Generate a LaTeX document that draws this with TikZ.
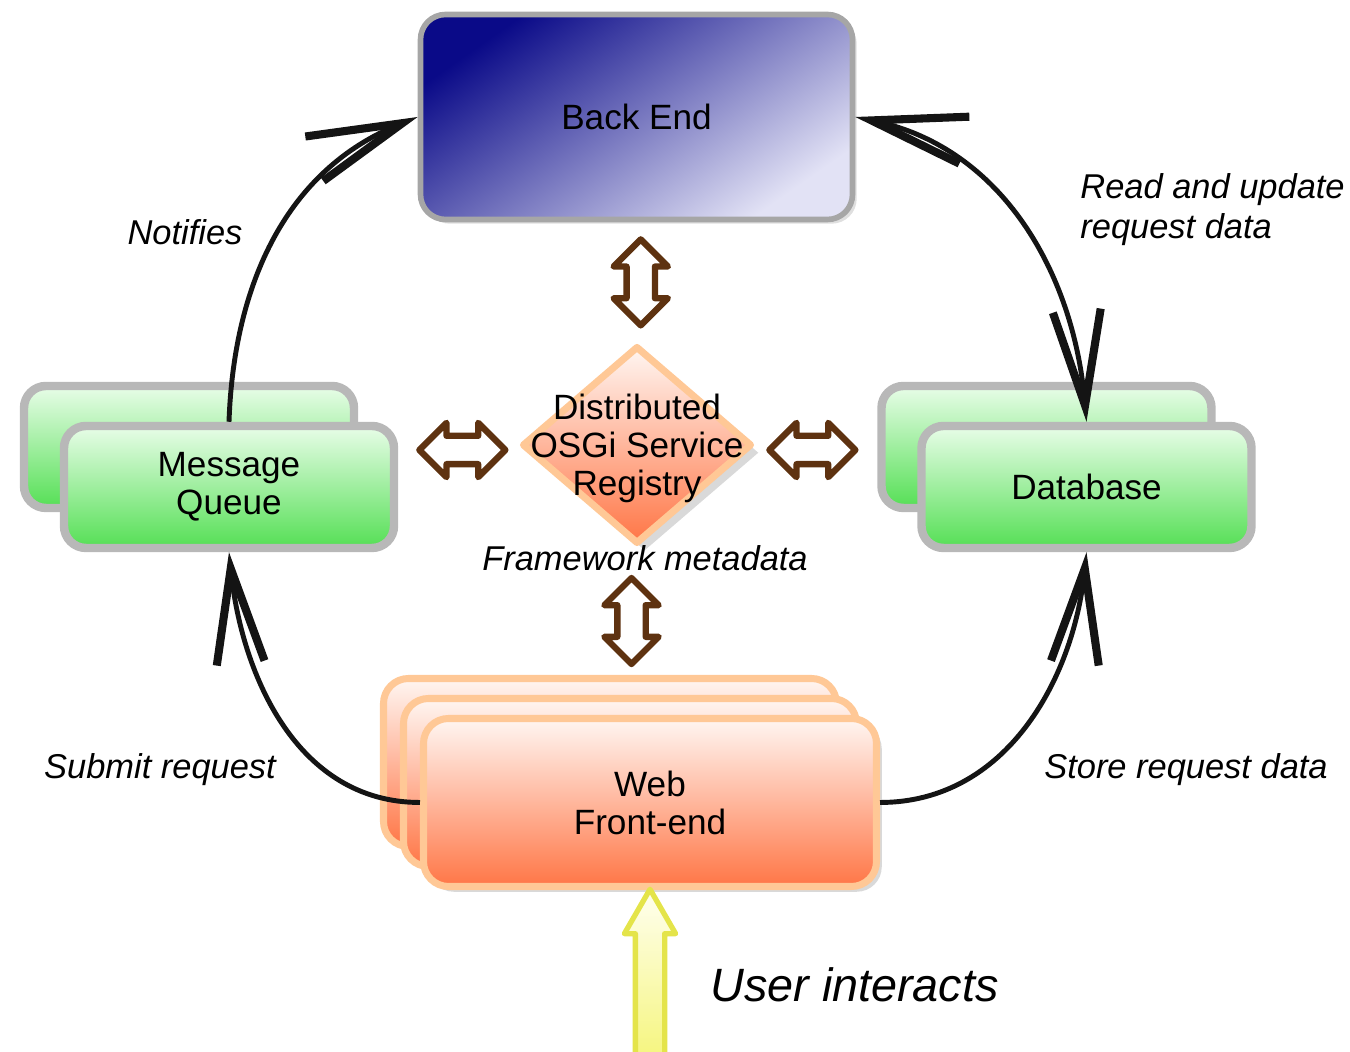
\documentclass[tikz,border=0pt]{standalone}
\usepackage{fontspec}
\setmainfont{Liberation Sans}
\usetikzlibrary{arrows.meta,calc,shapes.geometric,shapes.arrows,shadows}

\definecolor{navy}{HTML}{0A0A88}
\definecolor{lavend}{HTML}{E2E2F5}
\definecolor{mintlt}{HTML}{E8FDE8}
\definecolor{mintdk}{HTML}{55DF55}
\definecolor{peach}{HTML}{FFC896}
\definecolor{salmon}{HTML}{FF7646}
\definecolor{rosewh}{HTML}{FFF6F2}
\definecolor{umber}{HTML}{5E3210}
\definecolor{lemon}{HTML}{E4E44A}
\definecolor{lemonlt}{HTML}{FFFFF0}
\definecolor{lemondk}{HTML}{F5F57A}

\tikzset{
	boxtext/.style={font=\fontsize{10}{10.8}\selectfont, align=center, text=black},
	labeltext/.style={font=\fontsize{9.8}{11.4}\selectfont\itshape, align=left, text=black},
	backend/.style={boxtext, rectangle, rounded corners=0.25cm, draw=black!35, line width=1.6pt, top color=navy, bottom color=lavend, shading angle=35, minimum width=4.32cm, minimum height=2.05cm, drop shadow={opacity=0.25, shadow xshift=1.2pt, shadow yshift=-1.2pt}},
	greenbox/.style={boxtext, rectangle, rounded corners=0.22cm, draw=black!28, line width=2.4pt, top color=mintlt, bottom color=mintdk, minimum width=3.30cm, minimum height=1.22cm},
	webbox/.style={boxtext, rectangle, rounded corners=0.25cm, draw=peach, line width=2pt, top color=rosewh, bottom color=salmon, minimum width=4.53cm, minimum height=1.68cm, drop shadow={opacity=0.3, shadow xshift=1.5pt, shadow yshift=-1.5pt}},
	regbox/.style={diamond, draw=peach, line width=2pt, line join=round, top color=rosewh, bottom color=salmon, minimum width=2.3cm, minimum height=1.98cm, inner sep=0pt, drop shadow={opacity=0.3, shadow xshift=2.2pt, shadow yshift=-2.2pt}},
	dblarrow/.style={double arrow, draw=umber, fill=white, line width=1.8pt, line join=round, double arrow tip angle=90, double arrow head extend=0.13cm, inner sep=0.11cm, minimum height=0.86cm},
	userarrow/.style={single arrow, draw=lemon, line width=1.5pt, line join=round, top color=lemonlt, bottom color=lemondk, single arrow tip angle=60, single arrow head extend=0.11cm, inner sep=0.12cm, minimum height=1.75cm, rotate=90},
	flow/.style={line width=1.4pt, color=black!92},
	sketchtip/.tip={Straight Barb[length=0.95cm, width=0.48cm, line width=2.3pt]}
}

\begin{document}
\begin{tikzpicture}
	%%%%% START %%%%%
	\useasboundingbox (0, 0) rectangle (13.5, -10.52);
	
	\node[backend] (be) at (6.365, -1.17) {Back End};
	
	\node[greenbox] (mqback) at (1.89, -4.47) {};
	\node[greenbox] (mq) at (2.29, -4.87) {Message\\Queue};
	
	\node[greenbox] (dbback) at (10.465, -4.47) {};
	\node[greenbox] (db) at (10.865, -4.87) {Database};
	
	\node[webbox] (webc) at (6.10, -7.625) {};
	\node[webbox] (webb) at (6.30, -7.825) {};
	\node[webbox] (web) at (6.50, -8.025) {Web\\Front-end};
	
	\node[regbox] (reg) at (6.37, -4.45) {};
	\node[boxtext] (regtext) at (6.37, -4.48) {Distributed\\OSGi Service\\Registry};
	\node[labeltext] (meta) at (6.45, -5.58) {Framework metadata};
	
	% registry links
	\coordinate (midl) at ($(mq.east)!0.5!(reg.west)$);
	\coordinate (midr) at ($(reg.east)!0.5!(dbback.west)$);
	\node[dblarrow, rotate=90] (arrtop) at ([xshift=0.04cm]$(be.south)!0.5!(reg.north)$) {};
	\node[dblarrow, rotate=90] (arrbot) at ([xshift=0.04cm, yshift=0.08cm]$(meta.south)!0.5!(webc.north)$) {};
	\node[dblarrow] (arrleft) at ([xshift=0.04cm, yshift=-0.05cm]midl |- reg.west) {};
	\node[dblarrow] (arrright) at ([xshift=-0.04cm, yshift=-0.05cm]midr |- reg.east) {};
	
	% request flow
	\draw[flow, -sketchtip] (mq.north) to[out=88, in=202] (be.west);
	\draw[flow, sketchtip-sketchtip] (be.east) to[out=-12, in=95] (db.north);
	\draw[flow, -sketchtip] (web.west) to[out=180, in=-84] (mq.south);
	\draw[flow, -sketchtip] (web.east) to[out=0, in=-96] (db.south);
	
	\node[labeltext] (lblnotify) at (1.85, -2.32) {Notifies};
	\node[labeltext, anchor=west] (lblread) at (10.68, -2.10) {Read and update\\request data};
	\node[labeltext] (lblsubmit) at (1.60, -7.70) {Submit request};
	\node[labeltext] (lblstore) at (11.86, -7.70) {Store request data};
	
	\node[userarrow, anchor=tip] (touch) at ([yshift=0.06cm]web.south) {};
	\node[labeltext, anchor=west, font=\fontsize{13.3}{16}\selectfont\itshape] (lbluser) at (6.98, -9.85) {User interacts};
	%%%%% END %%%%%
\end{tikzpicture}
\end{document}
